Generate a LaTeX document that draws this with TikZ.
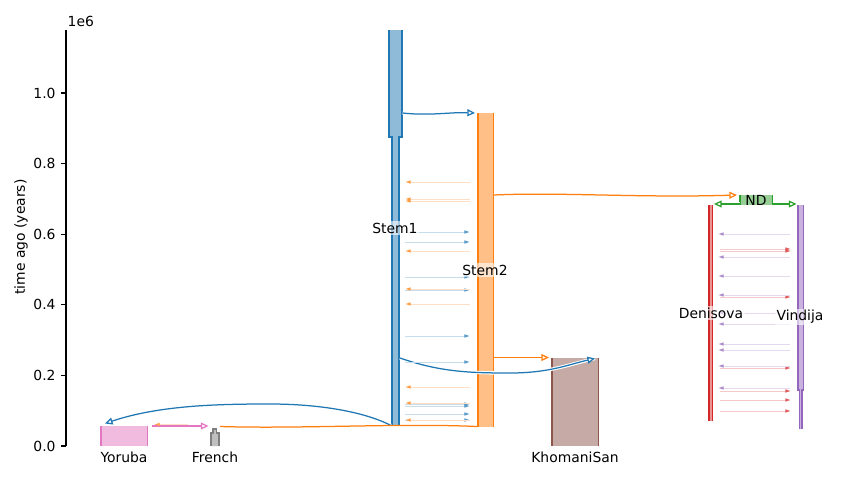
\documentclass[tikz,border=0pt]{standalone}
\usepackage{fontspec}
\setmainfont{DejaVu Sans}
\usetikzlibrary{arrows.meta}
\definecolor{tabblue}{HTML}{1F77B4}
\definecolor{tabor}{HTML}{FF7F0E}
\definecolor{tabgreen}{HTML}{2CA02C}
\definecolor{tabred}{HTML}{D62728}
\definecolor{tabpurple}{HTML}{9467BD}
\definecolor{tabbrown}{HTML}{8C564B}
\definecolor{tabpink}{HTML}{E377C2}
\definecolor{tabgray}{HTML}{7F7F7F}

\begin{document}
\begin{tikzpicture}[x=0.72pt, y=-0.72pt, every node/.style={inner sep=1pt}, >={Triangle[open, length=5.5pt, width=5pt]},
	deme/.style={fill=#1!50},
	side/.style={draw=#1, line width=0.75pt},
	lineage/.style={draw=#1, line width=0.9pt, ->, preaction={draw=white, line width=2.4pt, -}},
	migr/.style={draw=#1!25, line width=0.6pt, -{Latex[length=4pt, width=2.6pt, color=#1!75]}},
	dlabel/.style={fill=white, fill opacity=0.6, text opacity=1}]
	\useasboundingbox (0,0) rectangle (853,480);
	% axis
	\draw[line width=0.8pt] (66,30) -- (66,446);
	\foreach \i/\t in {0/0.0,1/0.2,2/0.4,3/0.6,4/0.8,5/1.0}
		\draw[line width=0.8pt] (66,446-70.6*\i) -- ++(-5,0) node[anchor=east, inner sep=3.5pt] (tick\i) {\t};
	\node[anchor=base west] (mult) at (66,26.5) {1e6};
	\node[rotate=90] (ylab) at (21,237) {time ago (years)};
	% demes
	\fill[deme=tabpink] (101,446) rectangle (147.5,426);
	\draw[side=tabpink] (101,446) -- (101,426) (147.5,446) -- (147.5,426);
	\fill[deme=tabgray] (211,446) |- (213,433) |- (216.5,429) |- (219,433) -- (219,446) -- cycle;
	\draw[side=tabgray] (211,446) |- (213,433) |- (216.5,429) (216.5,429) |- (219,433) -- (219,446);
	\fill[deme=tabblue] (389,30) -| (402,137) -| (399,425) -| (392,137) -| (389,30) -- cycle;
	\draw[side=tabblue] (389,30) |- (392,137) -- (392,425) (402,30) |- (399,137) -- (399,425);
	\fill[deme=tabor] (478,113) rectangle (493.5,426.5);
	\draw[side=tabor] (478,113) -- (478,426.5) (493.5,113) -- (493.5,426.5);
	\fill[deme=tabbrown] (552,446) rectangle (598.5,358);
	\draw[side=tabbrown] (552,446) -- (552,358) (598.5,446) -- (598.5,358);
	\fill[deme=tabred] (709,205) rectangle (712.5,421);
	\draw[side=tabred] (709,205) -- (709,421) (712.5,205) -- (712.5,421);
	\fill[deme=tabpurple] (798,205) -| (803.5,390) -| (802,429) -| (799.5,390) -| (798,205) -- cycle;
	\draw[side=tabpurple] (798,205) |- (799.5,390) -- (799.5,429) (803.5,205) |- (802,390) -- (802,429);
	\fill[deme=tabgreen] (740,195) rectangle (772.5,205);
	\draw[side=tabgreen] (740,195) -- (740,205) (772.5,195) -- (772.5,205);
	% ends of the ancestry arrows
	\coordinate (s1top) at (402.5,113);
	\coordinate (s2top) at (475,113);
	\coordinate (s2nd) at (494,195);
	\coordinate (ndin) at (737,195);
	\coordinate (ndl) at (740,204);
	\coordinate (dentop) at (714,204);
	\coordinate (ndr) at (773,204);
	\coordinate (vintop) at (796.5,204);
	\coordinate (s2kho) at (494,357.5);
	\coordinate (khol) at (549,357.5);
	\coordinate (s1kho) at (400,358);
	\coordinate (khor) at (595,358.5);
	\coordinate (s1yor) at (391,425.5);
	\coordinate (yor) at (105,423.5);
	\coordinate (s2fr) at (477,426.5);
	\coordinate (fr) at (220,426.5);
	\coordinate (yorr) at (151.5,426);
	\coordinate (frl) at (208.5,426);
	\coordinate (frback) at (188,424.5);
	\coordinate (yorback) at (154,424.5);
	\draw[lineage=tabblue] (s1top) .. controls (430,116) and (450,112) .. (s2top);
	\draw[lineage=tabor] (s2nd) .. controls (560,192) and (640,198) .. (ndin);
	\draw[lineage=tabgreen] (ndl) -- (dentop);
	\draw[lineage=tabgreen] (ndr) -- (vintop);
	\draw[lineage=tabor] (s2kho) -- (khol);
	\draw[lineage=tabblue] (s1kho) .. controls (440,372) and (470,373) .. (510,373) .. controls (550,373) and (570,364) .. (khor);
	\draw[lineage=tabblue] (s1yor) .. controls (365,412) and (320,404) .. (270,404) .. controls (220,404) and (160,405) .. (yor);
	\draw[draw=tabor, line width=0.9pt] (s2fr) .. controls (400,423) and (300,429) .. (fr);
	\draw[lineage=tabpink] (yorr) -- (frl);
	\draw[migr=tabor] (frback) -- (yorback);
	% migrations
	\coordinate (s1out) at (405,0);
	\coordinate (s2in) at (470,0);
	\coordinate (denout) at (720,0);
	\coordinate (vinin) at (791,0);
	\coordinate (vinout) at (790,0);
	\coordinate (denin) at (718,0);
	\foreach \y in {232,242,277,290,336,362,404,406,414,420}
		\draw[migr=tabblue] (s1out |- 0,\y) -- (s2in |- 0,\y);
	\foreach \y in {182,199,201,251,289,304,387,403,420}
		\draw[migr=tabor] (s2in |- 0,\y) -- (s1out |- 0,\y);
	\foreach \y in {249,251,297,368,391,400,411}
		\draw[migr=tabred] (denout |- 0,\y) -- (vinin |- 0,\y);
	\foreach \y in {234,257,276,295,313,324,344,350,366,388}
		\draw[migr=tabpurple] (vinout |- 0,\y) -- (denin |- 0,\y);
	% labels
	\node[dlabel] (lstem1) at (395,228) {Stem1};
	\node[dlabel] (lstem2) at (485,270) {Stem2};
	\node[dlabel] (lden) at (711,313) {Denisova};
	\node[dlabel] (lvin) at (800,317) {Vindija};
	\node (lnd) at (756,200) {ND};
	\node[anchor=base] (lyor) at (124,462) {Yoruba};
	\node[anchor=base] (lfr) at (215,462) {French};
	\node[anchor=base] (lkho) at (575,462) {KhomaniSan};
\end{tikzpicture}
\end{document}
